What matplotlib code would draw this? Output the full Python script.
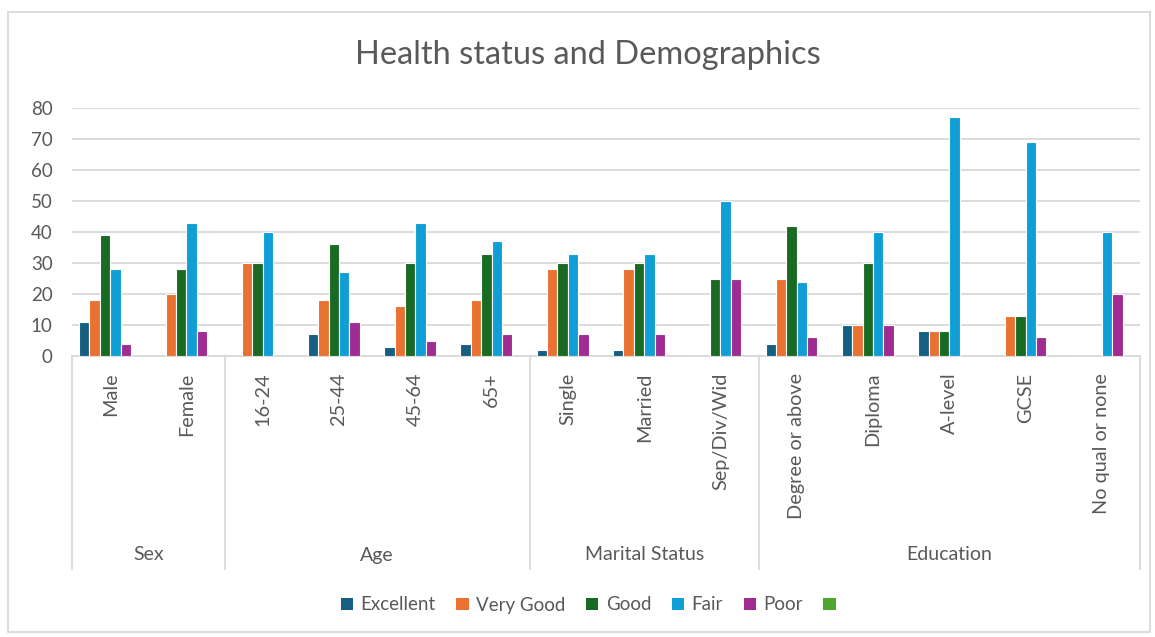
import numpy as np
import matplotlib.pyplot as plt
from matplotlib.patches import Rectangle, Patch

plt.rcParams['font.family'] = ['Lato', 'DejaVu Sans']

# categories and groups
categories = ['Male', 'Female', '16-24', '25-44', '45-64', '65+',
              'Single', 'Married', 'Sep/Div/Wid',
              'Degree or above', 'Diploma', 'A-level', 'GCSE', 'No qual or none']
groups = ['Sex', 'Age', 'Marital Status', 'Education']
group_sizes = [2, 4, 3, 5]

# series values (0 where no bar)
excellent = [11, 0, 0, 7, 3, 4, 2, 2, 0, 4, 10, 8, 0, 0]
very_good = [18, 20, 30, 18, 16, 18, 28, 28, 0, 25, 10, 8, 13, 0]
good = [39, 28, 30, 36, 30, 33, 30, 30, 25, 42, 30, 8, 13, 0]
fair = [28, 43, 40, 27, 43, 37, 33, 33, 50, 24, 40, 77, 69, 40]
poor = [4, 8, 0, 11, 5, 7, 7, 7, 25, 6, 10, 0, 6, 20]
blank = [0] * 14

series = [('Excellent', excellent, '#156082'),
          ('Very Good', very_good, '#e97132'),
          ('Good', good, '#196b24'),
          ('Fair', fair, '#0f9ed5'),
          ('Poor', poor, '#a02b93'),
          ('', blank, '#4ea72e')]

txt = '#595959'
gridc = '#d9d9d9'

fig = plt.figure(figsize=(11.55, 6.37), dpi=100)
ax = fig.add_axes([72 / 1155, 1 - 356 / 637, (1140 - 72) / 1155, (356 - 108) / 637])

x = np.arange(len(categories))
w = 0.136
for j, (name, vals, col) in enumerate(series):
    ax.bar(x + (j - 2.5) * w, vals, width=w, color=col,
           edgecolor='white' if name else 'none', linewidth=0.8, zorder=3)

ax.set_xlim(-0.5, len(categories) - 0.5)
ax.set_ylim(0, 80)
ax.set_yticks(range(0, 81, 10))
ax.yaxis.grid(True, color=gridc, linewidth=1.3, zorder=0)
for s in ['top', 'right', 'left']:
    ax.spines[s].set_visible(False)
ax.spines['bottom'].set_color(gridc)
ax.spines['bottom'].set_linewidth(1.3)
ax.tick_params(axis='y', length=0, labelsize=13.5, colors=txt, pad=14)
ax.tick_params(axis='x', length=0, pad=12)
ax.set_xticks(x)
ax.set_xticklabels(categories, rotation=90, fontsize=14.3, color=txt, va='top')

# multi-level axis separators and group labels
trans = ax.get_xaxis_transform()
y_bot = -(569 - 356) / 248
bounds = np.concatenate([[0], np.cumsum(group_sizes)]) - 0.5
for b in bounds:
    ax.plot([b, b], [0, y_bot], transform=trans, color=gridc, lw=1.3, clip_on=False)
for i, g in enumerate(groups):
    ax.text((bounds[i] + bounds[i + 1]) / 2, -(555 - 356) / 248, g, transform=trans,
            ha='center', va='center', fontsize=14, color=txt)

fig.text(588 / 1155, 1 - 55 / 637, 'Health status and Demographics',
         ha='center', va='center', fontsize=23.5, color=txt)

handles = [Patch(facecolor=c, label=n) for n, v, c in series]
fig.legend(handles=handles, loc='center', bbox_to_anchor=(592 / 1155, 1 - 605 / 637),
           ncol=6, frameon=False, fontsize=13.5, labelcolor=txt,
           handlelength=0.65, handleheight=0.65, handletextpad=0.4, columnspacing=1.1)

fig.patches.append(Rectangle((8 / 1155, 5 / 637), 1142 / 1155, 620 / 637,
                             transform=fig.transFigure, fill=False,
                             edgecolor=gridc, linewidth=1.3))

fig.savefig('out.png', dpi=100)
